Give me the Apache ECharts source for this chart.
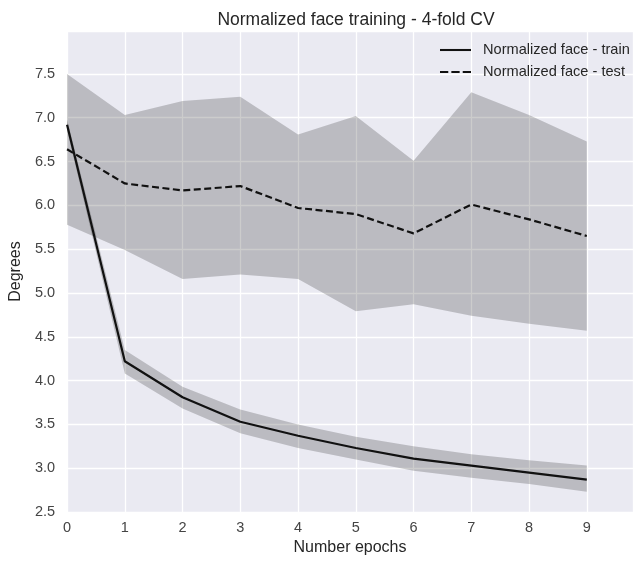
<!DOCTYPE html>
<html>
<head>
<meta charset="utf-8">
<script src="https://cdn.jsdelivr.net/npm/echarts@6/dist/echarts.min.js"></script>
<style>
  html, body { margin: 0; padding: 0; background: #fff; }
  #main { width: 633px; height: 561px; }
</style>
</head>
<body>
<div id="main"></div>
<script>
var epochs = [0, 1, 2, 3, 4, 5, 6, 7, 8, 9];
var trainMean  = [6.92, 4.22, 3.81, 3.53, 3.37, 3.23, 3.11, 3.03, 2.95, 2.87];
var trainLow   = [6.86, 4.08, 3.68, 3.40, 3.23, 3.10, 2.97, 2.89, 2.82, 2.73];
var trainHigh  = [6.98, 4.35, 3.93, 3.67, 3.50, 3.36, 3.25, 3.16, 3.09, 3.03];
var testMean   = [6.64, 6.25, 6.17, 6.22, 5.97, 5.90, 5.68, 6.01, 5.84, 5.65];
var testLow    = [5.78, 5.49, 5.16, 5.21, 5.16, 4.79, 4.87, 4.74, 4.65, 4.57];
var testHigh   = [7.50, 7.03, 7.19, 7.24, 6.81, 7.02, 6.51, 7.29, 7.03, 6.73];
var yTicks = [2.5, 3.0, 3.5, 4.0, 4.5, 5.0, 5.5, 6.0, 6.5, 7.0, 7.5];

function pairs(xs, ys) {
  return xs.map(function (x, i) { return [x, ys[i]]; });
}

// fill_between 
function bandSeries(name, lo, hi) {
  return {
    name: name,
    type: 'custom',
    silent: true,
    data: epochs.map(function (x, i) { return [x, lo[i], hi[i]]; }),
    encode: { x: 0, y: [1, 2] },
    renderItem: function (params, api) {
      if (params.dataIndex !== 0) return null;
      var pts = [];
      for (var i = 0; i < epochs.length; i++) pts.push(api.coord([epochs[i], hi[i]]));
      for (var j = epochs.length - 1; j >= 0; j--) pts.push(api.coord([epochs[j], lo[j]]));
      return {
        type: 'polygon',
        shape: { points: pts },
        style: { fill: 'rgba(0,0,0,0.2)', stroke: null }
      };
    }
  };
}

var chart = echarts.init(document.getElementById('main'));
var font = "'Liberation Sans', Arial, sans-serif";

var option = {
  animation: false,
  backgroundColor: '#ffffff',
  title: {
    text: 'Normalized face training - 4-fold CV',
    left: 351,
    top: 6,
    textAlign: 'center',
    textStyle: { fontFamily: font, fontSize: 17.5, fontWeight: 'normal', color: '#262626' }
  },
  legend: {
    data: [
      { name: 'Normalized face - train', icon: 'path://M0,0h30v2h-30z' },
      { name: 'Normalized face - test', icon: 'path://M0,0h8v2h-8z M11,0h8v2h-8z M22,0h8v2h-8z' }
    ],
    orient: 'vertical',
    left: 440,
    top: 42,
    itemWidth: 31,
    itemHeight: 2.2,
    itemGap: 6,
    padding: 0,
    textStyle: { fontFamily: font, fontSize: 14.6, lineHeight: 16, color: '#262626', padding: [0, 0, 0, 7] }
  },
  grid: {
    left: 66,
    right: 0,
    top: 31,
    bottom: 45,
    show: true,
    backgroundColor: '#EAEAF2',
    borderWidth: 0
  },
  xAxis: {
    type: 'value',
    min: 0,
    max: 9.8,
    interval: 1,
    name: 'Number epochs',
    nameLocation: 'middle',
    nameGap: 28,
    nameTextStyle: { fontFamily: font, fontSize: 16, color: '#262626' },
    axisLine: { show: false },
    axisTick: { show: false },
    axisLabel: { showMaxLabel: false, fontFamily: font, fontSize: 14.5, color: '#444', margin: 8 },
    splitLine: { show: true, lineStyle: { color: '#ffffff', width: 1.3 } }
  },
  yAxis: {
    type: 'value',
    min: 2.5,
    max: 7.99,
    interval: 0.5,
    name: 'Degrees',
    nameLocation: 'middle',
    nameGap: 37,
    nameTextStyle: { fontFamily: font, fontSize: 16, color: '#262626' },
    axisLine: { show: false },
    axisTick: { show: false },
    axisLabel: {
      showMaxLabel: false,
      fontFamily: font, fontSize: 14.5, color: '#444', margin: 12,
      formatter: function (v) {
        return yTicks.indexOf(+v.toFixed(2)) >= 0 ? v.toFixed(1) : '';
      }
    },
    splitLine: { show: true, lineStyle: { color: '#ffffff', width: 1.3 } }
  },
  series: [
    bandSeries('testBand', testLow, testHigh),
    bandSeries('trainBand', trainLow, trainHigh),
    {
      name: 'Normalized face - train', type: 'line',
      data: pairs(epochs, trainMean), showSymbol: false, symbol: 'none',
      color: '#111111',
      lineStyle: { color: '#111111', width: 2.2 }
    },
    {
      name: 'Normalized face - test', type: 'line',
      data: pairs(epochs, testMean), showSymbol: false, symbol: 'none',
      color: '#111111',
      lineStyle: { color: '#111111', width: 2.2, type: [7, 3.5] }
    }
  ]
};
chart.setOption(option);
</script>
</body>
</html>
